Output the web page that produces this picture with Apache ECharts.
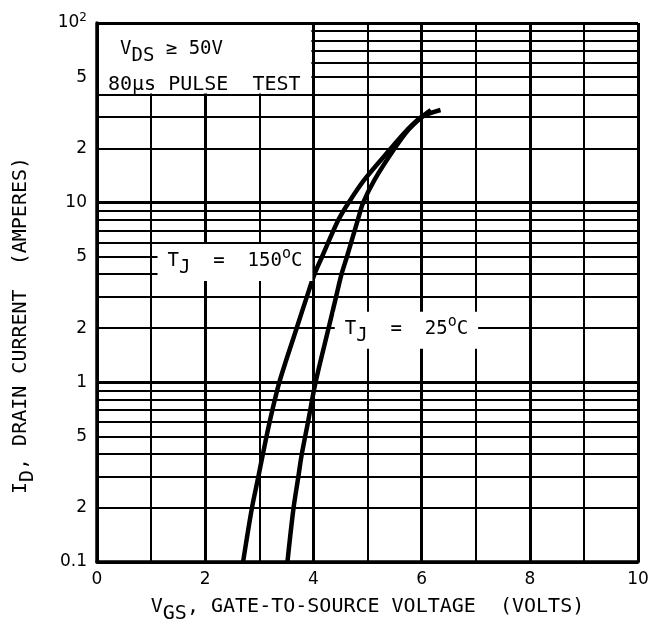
<!DOCTYPE html>
<html>
<head>
<meta charset="utf-8">
<script src="https://cdn.jsdelivr.net/npm/echarts@6/dist/echarts.min.js"></script>
<style>
  html, body { margin: 0; padding: 0; background: #fff; }
  #chart { width: 655px; height: 622px; }
</style>
</head>
<body>
<div id="chart"></div>
<script>
// transfer curves (VGS volts, ID amps)
var vgs150 = [2.70, 2.86, 2.98, 3.06, 3.19, 3.37, 3.69, 3.88, 4.02, 4.16, 4.46, 4.65, 4.94, 5.43, 5.74, 6.0, 6.35];
var id150  = [0.1, 0.197, 0.296, 0.39, 0.6, 1.0, 2, 3, 4, 5, 8, 10, 13.4, 20, 25.5, 30, 32.8];
var vgs25  = [3.52, 3.63, 3.72, 3.78, 3.90, 4.04, 4.28, 4.42, 4.52, 4.62, 4.82, 4.92, 5.13, 5.5, 5.76, 6.0, 6.17];
var id25   = [0.1, 0.197, 0.296, 0.39, 0.6, 1.0, 2, 3, 4, 5, 8, 10, 13.4, 20, 25.5, 30, 32.8];

// grid / ticks
var yMinorLines = [0.2, 0.3, 0.4, 0.5, 0.6, 0.7, 0.8, 0.9, 2, 3, 4, 5, 6, 7, 8, 9, 20, 30, 40, 50, 60, 70, 80, 90];
var yMinorLabels = { 0.2: '2', 0.5: '5', 2: '2', 5: '5', 20: '2', 50: '5' };
var xOddLines = [1, 3, 5, 7, 9];

var MONO = 'DejaVu Sans Mono';
var SANS = 'DejaVu Sans';

function pair(xs, ys) {
    return xs.map(function (x, i) { return [x, ys[i]]; });
}

var markData = [];
yMinorLines.forEach(function (v) {
    var lbl = yMinorLabels[v];
    markData.push({
        yAxis: v,
        lineStyle: { width: 1.8 },
        label: lbl ? { show: true, position: 'start', formatter: lbl, distance: 10,
                       fontSize: 17, fontFamily: SANS, color: '#000' } : { show: false }
    });
});
xOddLines.forEach(function (v) {
    markData.push({ xAxis: v, lineStyle: { width: 2 }, label: { show: false } });
});

// rich styles: same-size subscripts dropped with top padding
function richSet(size) {
    return {
        n:   { fontSize: size, fontFamily: MONO, color: '#000', fill: '#000', verticalAlign: 'top' },
        sub: { fontSize: size, fontFamily: MONO, color: '#000', fill: '#000', verticalAlign: 'top', padding: [7, 0, 0, 0] }
    };
}

var chart = echarts.init(document.getElementById('chart'));

var option = {
    animation: false,
    backgroundColor: '#fff',
    grid: { left: 97, right: 17, top: 23, bottom: 60, containLabel: false, outerBoundsMode: 'none' },
    xAxis: {
        type: 'value',
        min: 0, max: 10, interval: 2,
        name: '{n|V}{sub|GS}{n|, GATE-TO-SOURCE VOLTAGE  (VOLTS)}',
        nameLocation: 'middle',
        nameGap: 35,
        nameTextStyle: { fontSize: 20, fontFamily: MONO, color: '#000', rich: richSet(20) },
        axisLine: { show: true, lineStyle: { color: '#000', width: 3.5 } },
        axisTick: { show: false },
        axisLabel: { fontSize: 17, fontFamily: SANS, color: '#000', margin: 9 },
        splitLine: { show: true, lineStyle: { color: '#000', width: 3 } }
    },
    yAxis: {
        type: 'log',
        logBase: 10,
        min: 0.1, max: 100,
        name: '{n|I}{sub|D}{n|, DRAIN CURRENT  (AMPERES)}',
        nameLocation: 'middle',
        nameRotate: 90,
        nameGap: 59,
        nameTextStyle: {
            fontSize: 20, fontFamily: MONO, color: '#000',
            padding: [0, 66, 0, 0],
            rich: richSet(20)
        },
        axisLine: { show: true, lineStyle: { color: '#000', width: 3.5 } },
        axisTick: { show: false },
        axisLabel: {
            fontSize: 17, fontFamily: SANS, color: '#000', margin: 10,
            formatter: function (v) {
                if (v >= 100) return '10{sup|2}';
                if (v < 0.5) return '0.1';
                return String(v);
            },
            rich: { sup: { fontSize: 12, fontFamily: SANS, verticalAlign: 'top', padding: [0, 0, 10, 0] } }
        },
        splitLine: { show: true, lineStyle: { color: '#000', width: 3 } }
    },
    series: [
        {
            name: 'TJ = 150°C',
            type: 'line',
            data: pair(vgs150, id150),
            smooth: 0.3,
            symbol: 'none',
            lineStyle: { color: '#000', width: 4.5 },
            z: 5,
            markLine: {
                silent: true,
                symbol: ['none', 'none'],
                animation: false,
                lineStyle: { color: '#000', type: 'solid' },
                data: markData
            }
        },
        {
            name: 'TJ = 25°C',
            type: 'line',
            data: pair(vgs25, id25),
            smooth: 0.3,
            symbol: 'none',
            lineStyle: { color: '#000', width: 4.5 },
            z: 5
        }
    ]
};

chart.setOption(option);

// annotation boxes, placed through the chart's own scales
function px(x, y) { return chart.convertToPixel({ gridIndex: 0 }, [x, y]); }

var boxA = px(0, 100), boxB = px(4, 40);
var lbl150 = px(2.55, 4.65);
var lbl25 = px(5.72, 1.95);

var labelRich = {
    n:   { fontSize: 19, fontFamily: MONO, fill: '#000', verticalAlign: 'top', padding: [5, 0, 0, 0] },
    sub: { fontSize: 19, fontFamily: MONO, fill: '#000', verticalAlign: 'top', padding: [12, 0, 0, 0] },
    sup: { fontSize: 15, fontFamily: MONO, fill: '#000', verticalAlign: 'top' }
};

chart.setOption({
    graphic: [
        {
            type: 'rect', z: 100,
            shape: { x: boxA[0] + 2, y: boxA[1] + 2, width: boxB[0] - boxA[0] - 4, height: boxB[1] - boxA[1] - 3 },
            style: { fill: '#fff' }
        },
        {
            type: 'text', z: 101,
            x: boxA[0] + 23, y: boxA[1] + 27,
            style: {
                text: '{n|V}{sub|DS}{n| ≥ 50V}',
                rich: labelRich, verticalAlign: 'middle'
            }
        },
        {
            type: 'text', z: 101,
            x: boxA[0] + 11, y: boxB[1] - 10,
            style: {
                text: '80µs PULSE  TEST',
                fontSize: 20, fontFamily: MONO, fill: '#000',
                verticalAlign: 'middle'
            }
        },
        {
            type: 'text', z: 101,
            x: lbl150[0], y: lbl150[1],
            style: {
                text: '{n|T}{sub|J}{n|  =  150}{sup|o}{n|C}',
                rich: labelRich,
                align: 'center', verticalAlign: 'middle',
                backgroundColor: '#fff',
                padding: [3, 10, 3, 10]
            }
        },
        {
            type: 'text', z: 101,
            x: lbl25[0], y: lbl25[1],
            style: {
                text: '{n|T}{sub|J}{n|  =  25}{sup|o}{n|C}',
                rich: labelRich,
                align: 'center', verticalAlign: 'middle',
                backgroundColor: '#fff',
                padding: [3, 10, 3, 10]
            }
        }
    ]
});
</script>
</body>
</html>
